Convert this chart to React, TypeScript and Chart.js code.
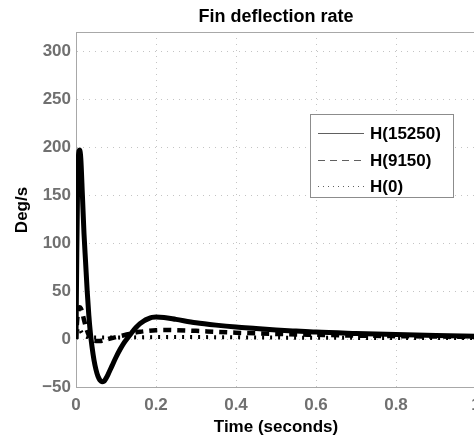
import { useEffect, useRef } from 'react';
import { Chart, registerables } from 'chart.js';

Chart.register(...registerables);

const titleText = 'Fin deflection rate';
const xTitle = 'Time (seconds)';
const yTitle = 'Deg/s';
const seriesNames = ['H(15250)', 'H(9150)', 'H(0)'];

const tH15250 = [0, 0.002, 0.004, 0.006, 0.009, 0.012, 0.016, 0.02, 0.024, 0.028, 0.032, 0.036, 0.04, 0.045, 0.05, 0.055, 0.06, 0.065, 0.07, 0.075, 0.08, 0.09, 0.1, 0.11, 0.12, 0.13, 0.14, 0.15, 0.16, 0.17, 0.18, 0.19, 0.2, 0.22, 0.25, 0.3, 0.35, 0.4, 0.45, 0.5, 0.55, 0.6, 0.7, 0.8, 0.9, 1.0];
const vH15250 = [0, 90, 160, 190, 197, 188, 150, 110, 80, 50, 25, 6, -8, -22, -32, -39, -43, -44.5, -44, -41, -37, -28, -19, -11, -4, 1.5, 7, 12, 16, 19, 21, 22.5, 23, 22.5, 20.5, 17, 14.5, 12.5, 11, 9.5, 8.3, 7.2, 5.8, 4.6, 3.7, 3];

const tH9150 = [0, 0.003, 0.006, 0.009, 0.012, 0.016, 0.02, 0.025, 0.03, 0.035, 0.04, 0.05, 0.06, 0.07, 0.08, 0.09, 0.1, 0.12, 0.14, 0.16, 0.18, 0.2, 0.22, 0.25, 0.3, 0.35, 0.4, 0.5, 0.6, 0.7, 0.8, 0.9, 1.0];
const vH9150 = [0, 20, 30, 33, 32, 27, 20, 12, 6, 2, -1, -2, -2, -1, 0, 1, 2, 4, 6, 7.5, 8.5, 9.2, 9.5, 9.3, 8.5, 7.5, 6.6, 5.3, 4.4, 3.6, 3, 2.6, 2.2];

const tH0 = [0, 0.003, 0.006, 0.01, 0.015, 0.02, 0.03, 0.05, 0.1, 0.2, 0.3, 0.5, 0.7, 1.0];
const vH0 = [0, 8, 12, 10, 6, 4, 2, 1.5, 1.5, 2, 2, 1.5, 1.2, 1];

const xTicks = [0, 0.2, 0.4, 0.6, 0.8, 1];
const yTicks = [-50, 0, 50, 100, 150, 200, 250, 300];

const toPts = (t: number[], v: number[]) => t.map((x, i) => ({ x, y: v[i] }));

export default function App() {
  const ref = useRef<HTMLCanvasElement>(null);
  useEffect(() => {
    document.body.style.margin = '0';
    document.body.style.overflow = 'hidden';
    const canvas = ref.current!;
    const font = '"Liberation Sans", Arial, sans-serif';

    const decor = {
      id: 'decor',
      afterDraw(chart: any) {
        const ctx = chart.ctx;
        const a = chart.chartArea;
        ctx.save();
        ctx.strokeStyle = '#a8a8a8';
        ctx.lineWidth = 1;
        ctx.beginPath();
        ctx.moveTo(a.left, a.top + 0.5);
        ctx.lineTo(a.right, a.top + 0.5);
        ctx.stroke();
        ctx.fillStyle = '#000';
        ctx.textAlign = 'center';
        ctx.textBaseline = 'middle';
        ctx.font = `bold 18px ${font}`;
        ctx.fillText(titleText, 276, 17);
        ctx.font = `bold 17px ${font}`;
        ctx.fillText(xTitle, 276, 427);
        ctx.save();
        ctx.translate(22, 210);
        ctx.rotate(-Math.PI / 2);
        ctx.fillText(yTitle, 0, 0);
        ctx.restore();
        const bx = 310.5, by = 114.5, bw = 143, bh = 83;
        ctx.fillStyle = '#fff';
        ctx.fillRect(bx, by, bw, bh);
        ctx.strokeStyle = '#8c8c8c';
        ctx.lineWidth = 1;
        ctx.strokeRect(bx, by, bw, bh);
        const rows = [133, 160, 186];
        const dashes = [[], [7, 5], [1, 4]];
        rows.forEach((y, i) => {
          ctx.strokeStyle = '#606060';
          ctx.lineWidth = 1;
          ctx.setLineDash(dashes[i]);
          ctx.beginPath();
          ctx.moveTo(318, y + 0.5);
          ctx.lineTo(364, y + 0.5);
          ctx.stroke();
          ctx.setLineDash([]);
          ctx.fillStyle = '#000';
          ctx.textAlign = 'left';
          ctx.textBaseline = 'middle';
          ctx.font = `bold 17px ${font}`;
          ctx.fillText(seriesNames[i], 370, y + 1);
        });
        ctx.restore();
      },
    };

    const chart = new Chart(canvas, {
      type: 'line',
      data: {
        datasets: [
          {
            label: seriesNames[0],
            data: toPts(tH15250, vH15250),
            borderColor: '#000',
            borderWidth: 5,
            pointRadius: 0,
            cubicInterpolationMode: 'monotone',
          },
          {
            label: seriesNames[1],
            data: toPts(tH9150, vH9150),
            borderColor: '#000',
            borderWidth: 4.5,
            borderDash: [8, 6],
            pointRadius: 0,
            cubicInterpolationMode: 'monotone',
          },
          {
            label: seriesNames[2],
            data: toPts(tH0, vH0),
            borderColor: '#000',
            borderWidth: 4,
            borderDash: [2, 6],
            pointRadius: 0,
            cubicInterpolationMode: 'monotone',
          },
        ],
      },
      options: {
        responsive: false,
        animation: false,
        layout: { padding: { top: 32, right: 24, left: 0, bottom: 0 } },
        plugins: { legend: { display: false }, title: { display: false }, tooltip: { enabled: false } },
        scales: {
          x: {
            type: 'linear',
            min: 0,
            max: 1,
            afterFit: (s: any) => { s.height = 52; },
            afterBuildTicks: (s: any) => { s.ticks = xTicks.map((v) => ({ value: v })); },
            ticks: {
              padding: 8,
              color: '#707070',
              font: { family: font, size: 17, weight: 'bold' },
              maxRotation: 0,
              callback: (v: any) => String(v),
            },
            grid: { color: '#c4c4c4', drawTicks: false, tickLength: 0 },
            border: { color: '#a8a8a8', width: 1, dash: [1, 5] },
          },
          y: {
            type: 'linear',
            min: -50,
            max: 320,
            afterFit: (s: any) => { s.width = 76; },
            afterBuildTicks: (s: any) => { s.ticks = yTicks.map((v) => ({ value: v })); },
            ticks: {
              padding: 5,
              color: '#707070',
              font: { family: font, size: 17, weight: 'bold' },
              callback: (v: any) => String(v).replace('-', '\u2212'),
            },
            grid: { color: '#c4c4c4', drawTicks: false, tickLength: 0 },
            border: { color: '#a8a8a8', width: 1, dash: [1, 5] },
          },
        },
      },
      plugins: [decor],
    });
    return () => chart.destroy();
  }, []);
  return <canvas ref={ref} width={500} height={439} style={{ display: 'block' }} />;
}
